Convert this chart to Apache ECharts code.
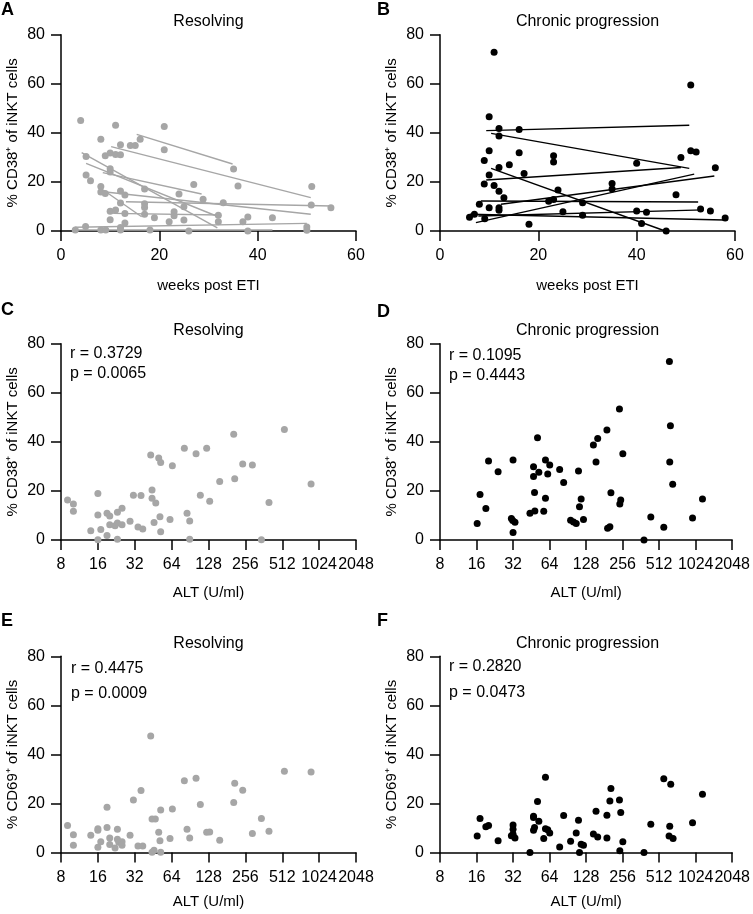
<!DOCTYPE html>
<html><head><meta charset="utf-8">
<script src="https://cdn.jsdelivr.net/npm/echarts@6/dist/echarts.min.js"></script>
<style>html,body{margin:0;padding:0;background:#fff}#c{width:753px;height:914px;background:#fff}</style>
</head><body><div id="c"></div><script>
// ---------- DATA ----------
const panelLetters = ['A','B','C','D','E','F'];
const panelTitles = ['Resolving','Chronic progression','Resolving','Chronic progression','Resolving','Chronic progression'];
const yTitlesCD38 = '% CD38\u207A of iNKT cells';
const yTitlesCD69 = '% CD69\u207A of iNKT cells';
const xTitleWeeks = 'weeks post ETI';
const xTitleALT = 'ALT (U/ml)';
const statsC = ['r = 0.3729','p = 0.0065'];
const statsD = ['r = 0.1095','p = 0.4443'];
const statsE = ['r = 0.4475','p = 0.0009'];
const statsF = ['r = 0.2820','p = 0.0473'];

// A: Resolving, weeks vs %CD38
const resolvingWeeksCD38 = [[4.0,45.0],[11.1,43.1],[8.1,37.4],[21.0,42.6],[21.0,33.1],[16.1,37.4],[14.1,34.8],[15.1,34.8],[12.1,35.2],[9.0,30.7],[10.0,31.8],[11.1,31.2],[12.1,31.1],[5.1,30.4],[5.1,22.8],[6.0,20.5],[10.0,25.4],[10.0,24.0],[8.1,18.1],[8.1,15.9],[9.0,15.3],[12.1,16.3],[13.0,14.7],[17.0,17.1],[27.0,19.0],[24.0,15.1],[28.9,12.9],[33.0,11.5],[35.1,25.3],[36.0,18.3],[51.0,18.1],[50.9,10.6],[54.9,9.5],[12.1,11.4],[17.0,11.1],[17.0,9.6],[10.0,8.0],[11.1,8.6],[13.0,7.1],[10.0,4.6],[13.0,3.3],[17.0,6.8],[19.0,5.4],[23.0,7.8],[23.0,6.2],[22.0,3.8],[25.0,4.5],[25.0,9.9],[32.0,6.4],[32.0,3.8],[37.0,3.8],[38.0,5.7],[43.0,5.4],[5.0,1.8],[2.9,0.4],[8.1,0.4],[9.1,0.4],[12.1,0.4],[12.1,1.4],[18.1,0.4],[26.0,0],[38.0,0],[50.0,1.6],[50.0,0.3]];
const resolvingTrends = [[15.4,39.4,34.9,27.3],[10.2,34.4,50.8,13.6],[4.2,31.9,31.8,1.3],[5.1,27.6,32.0,5.8],[8.5,23.8,28.6,15.1],[8.6,16.7,16.4,5.8],[8.6,16.0,50.8,6.8],[13.2,11.9,55.1,10.2],[10.6,7.2,32.3,6.5],[2.8,1.5,50.0,3.1],[3.0,0.4,43.0,0.4]];

// B: Chronic progression, weeks vs %CD38
const chronicWeeksCD38 = [[11.0,72.8],[51.0,59.5],[10.0,46.6],[12.0,41.8],[12.0,38.7],[16.1,41.4],[10.0,32.7],[9.0,28.7],[16.1,31.9],[23.1,30.7],[23.1,28.1],[14.1,27.0],[12.0,25.9],[10.0,22.8],[17.1,23.4],[9.0,19.2],[11.0,18.5],[12.0,16.2],[13.0,13.6],[8.0,10.9],[10.0,9.5],[12.0,9.5],[12.0,8.5],[6.0,5.6],[7.0,6.8],[9.1,5.0],[18.1,2.7],[22.1,12.1],[23.1,12.8],[24.0,16.7],[25.0,7.8],[29.0,11.5],[29.0,6.4],[35.0,19.4],[35.0,17.1],[40.0,27.6],[40.0,8.2],[42.0,7.6],[41.0,3.1],[46.0,0],[48.0,14.8],[49.0,30.0],[51.0,32.7],[52.1,32.2],[53.0,9.0],[55.0,8.2],[56.0,25.8],[58.0,5.3]];
const chronicTrends = [[9.4,40.9,50.7,43.1],[10.4,39.8,50.7,25.5],[9.4,20.8,49.0,25.9],[10.4,25.5,45.8,0],[7.3,3.4,51.7,23.2],[12.4,10.9,55.8,22.4],[8.3,12.2,52.5,11.8],[6.1,6.8,57.8,4.5],[7.8,6.1,53.6,8.6]];

// C: Resolving, ALT vs %CD38
const resolvingALTCD38 = [[9.05,16.3],[10.1,14.7],[10.1,11.7],[14.0,3.8],[16,19.0],[16,10.2],[16,0.1],[16.9,4.3],[19.0,1.8],[19.0,10.9],[20,9.8],[20,6.2],[22.1,5.8],[23.1,11.3],[23.1,6.9],[23.1,0.3],[25.2,12.9],[25.2,6.2],[29.3,7.6],[31.2,18.2],[34.0,5.3],[36.0,18.1],[37.2,4.5],[43.2,34.6],[44.3,20.4],[44.3,17.0],[46.0,7.1],[47.5,15.1],[50.2,33.4],[51.4,9.5],[52.1,31.6],[52.1,3.4],[62.1,8.4],[64.9,30.3],[81.3,37.4],[85.5,10.9],[89.9,7.7],[89.9,0.3],[101.3,35.2],[109.8,18.2],[123.7,37.4],[130.9,15.8],[158,23.8],[205.6,43.1],[209.5,25.0],[243.5,31.0],[292,30.6],[346,0.1],[399,15.3],[533,45.0],[880,22.8]];

// D: Chronic progression, ALT vs %CD38
const chronicALTCD38 = [[16.2,6.7],[17.1,18.5],[19.1,12.8],[20.1,32.2],[24.1,27.8],[31.0,8.8],[31.8,7.9],[33.2,7.2],[32,32.6],[32,3.1],[44.1,10.9],[47.2,29.9],[47.2,25.9],[48.1,19.4],[48.4,11.8],[50.9,41.7],[52.2,27.6],[57.3,11.7],[59.2,32.6],[59.2,17.0],[61.8,26.9],[64.2,30.6],[77.5,28.7],[83.6,23.4],[95.4,8.0],[100.8,7.3],[106.1,6.7],[110.8,28.1],[112.9,13.6],[116.5,16.7],[121.8,8.4],[147,38.7],[154.5,31.8],[159.5,41.4],[190,44.8],[192.5,4.8],[201,5.4],[205,19.3],[241,53.4],[242.7,14.7],[247,16.3],[257,35.2],[384,0],[437,9.4],[559,5.2],[622,72.7],[634,46.6],[626,31.8],[662,22.7],[965,9.0],[1165,16.7]];

// E: Resolving, ALT vs %CD69
const resolvingALTCD69 = [[9.05,11.0],[10.1,7.3],[10.1,3.0],[14.0,7.1],[16,9.7],[16,9.1],[16,2.2],[16.9,4.4],[19.0,18.5],[19.0,10.2],[20,5.9],[20,3.3],[22.1,1.9],[23.1,9.5],[23.1,5.4],[23.7,4.2],[25.2,4.4],[25.2,3.0],[29.3,7.1],[31.2,21.4],[34.0,2.7],[36.0,25.3],[37.2,2.7],[43.2,47.5],[44.3,13.7],[47.1,13.7],[44.3,0.1],[46.0,1.0],[50.2,8.3],[51.4,4.8],[52.1,17.4],[52.1,0.1],[62.1,5.7],[64.9,17.8],[81.3,29.3],[85.5,9.5],[89.9,5.9],[101.3,30.3],[109.8,19.6],[123.7,8.3],[130.9,8.4],[158,5.0],[205.6,20.4],[209.5,28.3],[243.5,25.4],[292,7.8],[346,13.9],[399,8.7],[533,33.2],[880,32.8]];

// F: Chronic progression, ALT vs %CD69
const chronicALTCD69 = [[16.2,6.8],[17.1,13.9],[19.1,10.5],[20.1,11.0],[24.1,4.8],[31.0,6.9],[32,11.2],[32,9.5],[32,7.5],[33.2,5.9],[44.1,0],[47.2,14.8],[47.2,14.3],[47.2,9.1],[48.1,10.2],[50.9,20.8],[52.2,12.8],[57.3,5.7],[59.2,30.7],[59.2,9.7],[61.8,9.3],[64.2,8.0],[77.5,2.3],[83.6,15.1],[95.4,4.6],[106.1,8.0],[110.8,13.2],[112.9,0],[116.5,3.4],[121.8,3.0],[147,7.6],[154.5,16.9],[159.5,6.4],[190,15.2],[190,6.0],[201,21.0],[205,26.1],[241,21.4],[242.7,0.8],[247,16.3],[257,4.4],[384,0],[437,11.6],[559,30.1],[638,27.9],[626,10.7],[618,6.8],[667,5.7],[965,12.2],[1165,23.8]];

// ---------- LAYOUT / STYLE ----------
const FONT = 'Liberation Sans, Arial, Helvetica, sans-serif';
const GRAY = '#a6a6a6';
const BLACK = '#000000';
const gridPos = [
  {left:61, top:34.7}, {left:440, top:34.7},
  {left:61, top:343.7}, {left:440, top:343.7},
  {left:61, top:656.3}, {left:440, top:656.3}
];
const GW = 295, GH = 196.3;
const xNameGaps = [47, 47, 45, 45, 42, 42];

const grids = gridPos.map(p => ({left:p.left, top:p.top, width:GW, height:GH}));

function tickSty(){ return {show:true, length:10, lineStyle:{color:BLACK, width:1.5}}; }
function xAxisWeeks(i){
  return {type:'value', gridIndex:i, min:0, max:60, interval:20,
    axisLine:{show:true, lineStyle:{color:BLACK, width:1.5}},
    axisTick:tickSty(),
    splitLine:{show:false},
    axisLabel:{color:BLACK, fontSize:16, fontFamily:FONT, margin:17},
    name:xTitleWeeks, nameLocation:'middle', nameGap:xNameGaps[i],
    nameTextStyle:{color:BLACK, fontSize:15, fontFamily:FONT}};
}
function xAxisALT(i){
  return {type:'log', logBase:2, gridIndex:i, min:8, max:2048,
    axisLine:{show:true, lineStyle:{color:BLACK, width:1.5}},
    axisTick:tickSty(),
    splitLine:{show:false},
    axisLabel:{color:BLACK, fontSize:16, fontFamily:FONT, margin:17,
      formatter: v => String(Math.round(v))},
    name:xTitleALT, nameLocation:'middle', nameGap:xNameGaps[i],
    nameTextStyle:{color:BLACK, fontSize:15, fontFamily:FONT}};
}
function yAxis(i, name){
  return {type:'value', gridIndex:i, min:0, max:80, interval:20,
    axisLine:{show:true, lineStyle:{color:BLACK, width:1.5}},
    axisTick:tickSty(),
    splitLine:{show:false},
    axisLabel:{color:BLACK, fontSize:16, fontFamily:FONT, margin:16},
    name:name, nameLocation:'middle', nameGap:41,
    nameTextStyle:{color:BLACK, fontSize:15, fontFamily:FONT}};
}

const yNames = [yTitlesCD38, yTitlesCD38, yTitlesCD38, yTitlesCD38, yTitlesCD69, yTitlesCD69];
const xAxes = [xAxisWeeks(0), xAxisWeeks(1), xAxisALT(2), xAxisALT(3), xAxisALT(4), xAxisALT(5)];
const yAxes = yNames.map((n,i)=>yAxis(i,n));

const series = [];
function trendSeries(i, trends, color){
  trends.forEach(t => {
    series.push({type:'line', xAxisIndex:i, yAxisIndex:i, data:[[t[0],t[1]],[t[2],t[3]]],
      showSymbol:false, symbol:'none',
      lineStyle:{color:color, width:1.4}});
  });
}
function scatterSeries(i, data, color){
  series.push({type:'scatter', xAxisIndex:i, yAxisIndex:i, data:data, symbolSize:7,
    itemStyle:{color:color, opacity:1}});
}
trendSeries(0, resolvingTrends, GRAY);
scatterSeries(0, resolvingWeeksCD38, GRAY);
trendSeries(1, chronicTrends, BLACK);
scatterSeries(1, chronicWeeksCD38, BLACK);
scatterSeries(2, resolvingALTCD38, GRAY);
scatterSeries(3, chronicALTCD38, BLACK);
scatterSeries(4, resolvingALTCD69, GRAY);
scatterSeries(5, chronicALTCD69, BLACK);

// texts as title components
const titles = [];
function ttl(x, y, text, size, weight, align){
  titles.push({text:text, left:x, top:y, padding:0, textAlign:align, textVerticalAlign:'middle',
    textStyle:{color:BLACK, fontSize:size, fontWeight:weight, fontFamily:FONT}});
}
const letterPos = [[1,10],[377,10],[1,310],[377,312],[1,621],[377,621]];
panelLetters.forEach((l,i)=>ttl(letterPos[i][0], letterPos[i][1], l, 18, 'bold', 'left'));
const titleY = [21.5, 21.5, 331, 331, 644, 644];
panelTitles.forEach((t,i)=>ttl(gridPos[i].left + GW/2, titleY[i], t, 16, 'normal', 'center'));
const statsPos = [[statsC,70,354,374],[statsD,449,356,376],[statsE,71,669,694],[statsF,449,666.5,692.5]];
statsPos.forEach(s => { ttl(s[1], s[2], s[0][0], 16, 'normal', 'left'); ttl(s[1], s[3], s[0][1], 16, 'normal', 'left'); });

const chart = echarts.init(document.getElementById('c'));
chart.setOption({
  animation:false,
  title:titles,
  grid:grids,
  xAxis:xAxes,
  yAxis:yAxes,
  series:series
});
</script></body></html>
